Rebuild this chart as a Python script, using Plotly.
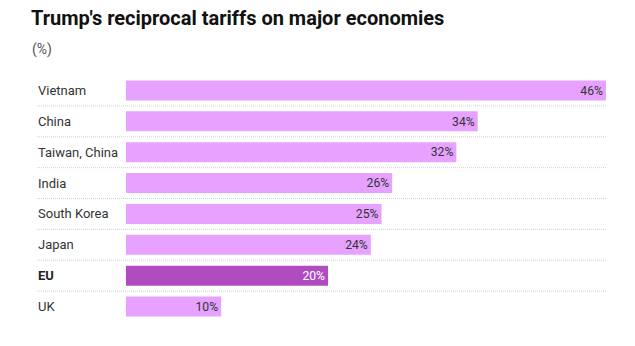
import plotly.graph_objects as go

countries = ["Vietnam", "China", "Taiwan, China", "India", "South Korea", "Japan", "EU", "UK"]
tariffs = [46, 34, 32, 26, 25, 24, 20, 10]
highlight = "EU"

LIGHT = "#E6A2FE"
DARK = "#B04CC0"
FONT = "Roboto"

colors = [DARK if c == highlight else LIGHT for c in countries]
text_colors = ["#FFFFFF" if c == highlight else "#333333" for c in countries]
labels = [f"{v}%" for v in tariffs]
ypos = list(range(len(countries)))

W, H = 635, 346
L, R, T, B = 126, 29, 75, 24
pw = W - L - R

fig = go.Figure(go.Bar(
    x=tariffs, y=ypos, orientation="h",
    marker=dict(color=colors, line=dict(width=0)),
    width=0.65,
    text=labels, textposition="inside", insidetextanchor="end",
    textfont=dict(family=FONT, size=13, color=text_colors),
    cliponaxis=True, hoverinfo="skip",
))

xl = (37 - L) / pw
xr = (607 - L) / pw
xlab = (35.5 - L) / pw

shapes = []
for i in range(len(countries) - 1):
    shapes.append(dict(type="line", xref="paper", yref="y", x0=xl, x1=xr,
                       y0=i + 0.5, y1=i + 0.5,
                       line=dict(color="#D2D2D2", width=1, dash="1px,1px")))

annotations = []
for i, c in enumerate(countries):
    annotations.append(dict(
        xref="paper", yref="y", x=xlab, y=i, xanchor="left", yanchor="middle",
        text=f"<b>{c}</b>" if c == highlight else c, showarrow=False,
        font=dict(family=FONT, size=13, color="#222222" if c == highlight else "#333333"),
    ))
annotations.append(dict(
    xref="paper", yref="paper", x=(30 - L) / pw, y=1 + (T - 49) / (H - T - B),
    xanchor="left", yanchor="middle", text="(%)", showarrow=False,
    font=dict(family=FONT, size=14, color="#555555"),
))

fig.update_layout(
    width=W, height=H,
    margin=dict(l=L, r=R, t=T, b=B),
    paper_bgcolor="white", plot_bgcolor="white",
    title=dict(text="<b>Trump's reciprocal tariffs on major economies</b>",
               x=31 / W, xanchor="left", xref="container",
               y=1 - 17.5 / H, yanchor="middle", yref="container",
               font=dict(family=FONT, size=20, color="#111111")),
    xaxis=dict(range=[1.1, 46], visible=False, fixedrange=True),
    yaxis=dict(range=[len(countries) - 0.5, -0.5], visible=False, fixedrange=True),
    shapes=shapes, annotations=annotations,
    showlegend=False,
)

fig.write_html("out.html", config={"displayModeBar": False})
